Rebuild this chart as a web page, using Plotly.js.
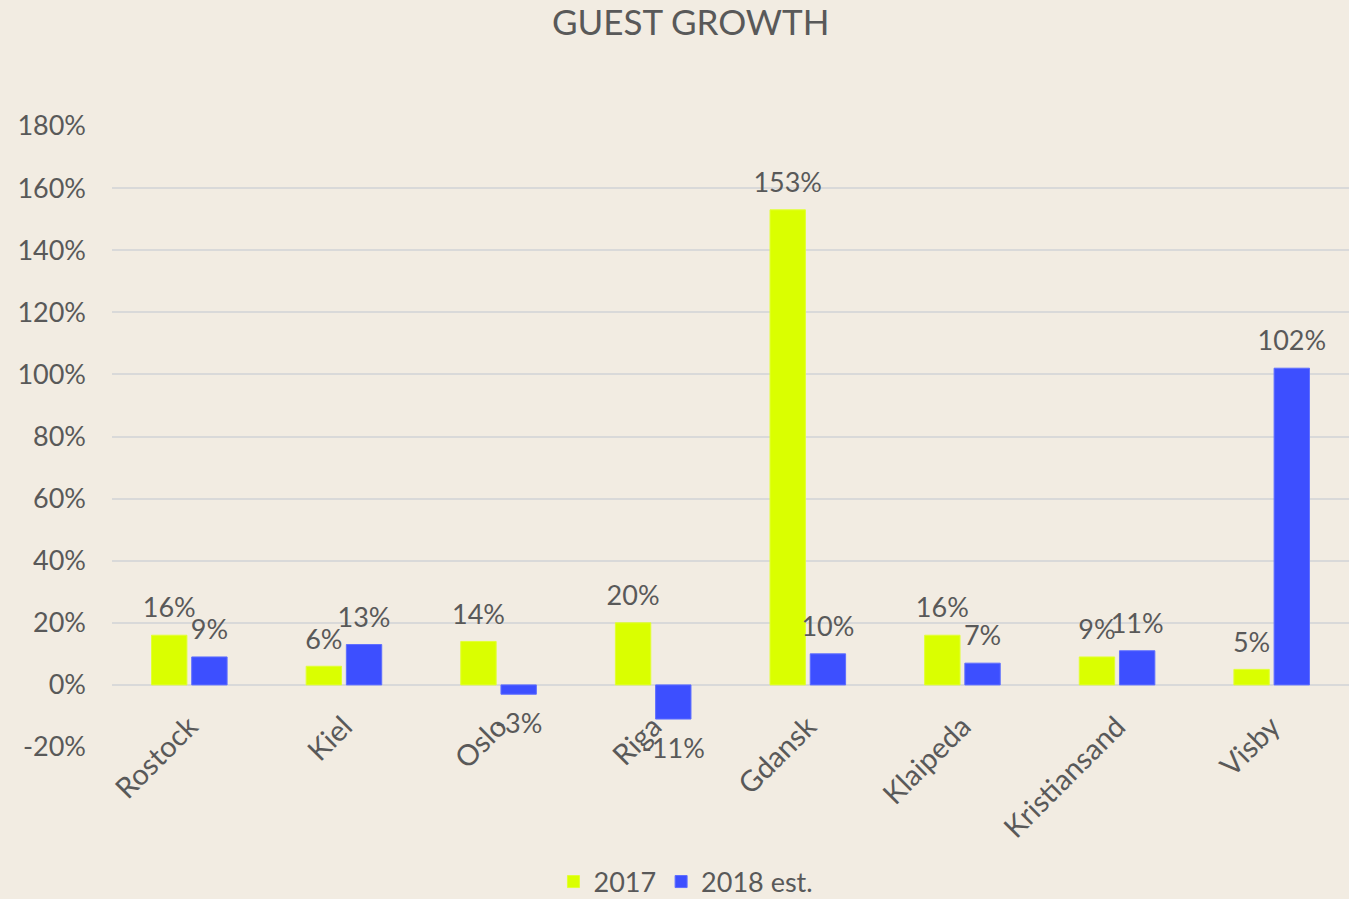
<!DOCTYPE html>
<html>
<head>
<meta charset="utf-8">
<script src="https://cdn.plot.ly/plotly-3.0.1.min.js"></script>
<style>html,body{margin:0;padding:0;background:#F2ECE2;}#chart{width:1349px;height:899px;}</style>
</head>
<body>
<div id="chart"></div>
<script>
const categories = ["Rostock", "Kiel", "Oslo", "Riga", "Gdansk", "Klaipeda", "Kristiansand", "Visby"];
const series2017 = [16, 6, 14, 20, 153, 16, 9, 5];
const series2018 = [9, 13, -3, -11, 10, 7, 11, 102];
const tickValues = [-20, 0, 20, 40, 60, 80, 100, 120, 140, 160, 180];
const tickLabels = tickValues.map(v => v + "%");

const FONT = "Lato, 'Open Sans', sans-serif";
const GREY = "#595959";

function barTrace(name, values, color, edge) {
  return {
    type: "bar", name: name, x: categories, y: values,
    marker: {color: color, line: {color: edge, width: 1}}, offsetgroup: name, hoverinfo: "skip"
  };
}
function labelTrace(name, values) {
  return {
    type: "scatter", mode: "markers+text", x: categories, y: values,
    offsetgroup: name, showlegend: false, cliponaxis: false,
    marker: {size: values.map(v => v < 0 ? 28 : 16), opacity: 0},
    text: values.map(v => v + "%"),
    textposition: values.map(v => v < 0 ? "bottom center" : "top center"),
    textfont: {family: FONT, size: 27, color: GREY}
  };
}

const traces = [
  barTrace("2017", series2017, "#DAFF00", "#E2FF33"),
  barTrace("2018 est.", series2018, "#3D4FFF", "#5E6EFF"),
  labelTrace("2017", series2017),
  labelTrace("2018 est.", series2018)
];

const layout = {
  width: 1349, height: 899,
  paper_bgcolor: "#F2ECE2", plot_bgcolor: "#F2ECE2",
  font: {family: FONT, color: GREY, size: 26},
  title: {text: "GUEST GROWTH", font: {family: FONT, size: 35, color: GREY}, x: 0.512, xanchor: "center", y: 0.975, yanchor: "middle"},
  margin: {l: 112, r: 0, t: 126, b: 152, pad: 0, autoexpand: false},
  barmode: "group", bargap: 0.48, bargroupgap: 0.12,
  scattermode: "group", scattergap: 0.48,
  showlegend: true,
  legend: {orientation: "h", x: 0.464, xanchor: "center", y: -0.2174, yanchor: "middle", font: {family: FONT, size: 27, color: GREY}, bgcolor: "rgba(0,0,0,0)", borderwidth: 0},
  xaxis: {
    type: "category", tickangle: -45, anchor: "free", position: 0.1,
    showgrid: false, zeroline: false, showline: false, ticks: "",
    tickfont: {family: FONT, size: 29, color: GREY}, ticklabelstandoff: 18
  },
  yaxis: {
    range: [-20, 180], tickvals: tickValues, ticktext: tickLabels,
    showgrid: true, gridcolor: "#D9D9D9", gridwidth: 2,
    zeroline: true, zerolinecolor: "#D9D9D9", zerolinewidth: 2,
    showline: false, ticks: "", ticklabelstandoff: 25,
    tickfont: {family: FONT, size: 27, color: GREY}
  }
};

Plotly.newPlot("chart", traces, layout, {displayModeBar: false, staticPlot: true});
</script>
</body>
</html>
